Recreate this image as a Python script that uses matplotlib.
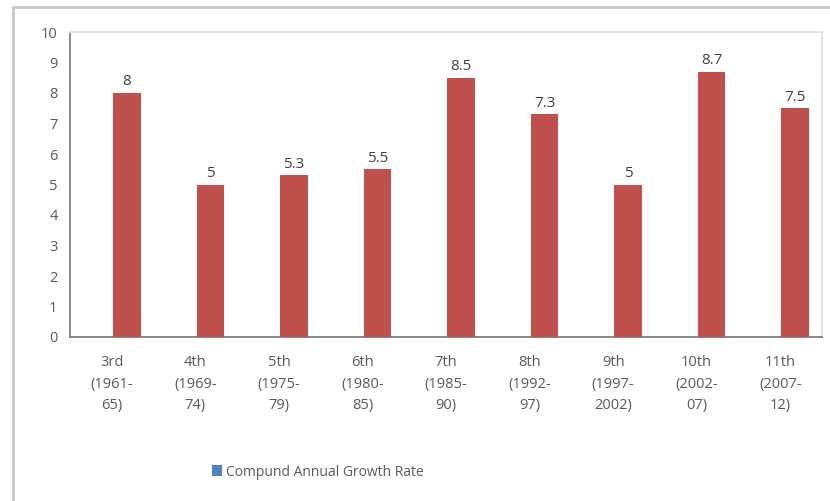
import matplotlib
matplotlib.use("Agg")
import matplotlib.pyplot as plt
from matplotlib.patches import Patch, Rectangle

plans = ["3rd\n(1961-\n65)", "4th\n(1969-\n74)", "5th\n(1975-\n79)", "6th\n(1980-\n85)",
         "7th\n(1985-\n90)", "8th\n(1992-\n97)", "9th\n(1997-\n2002)", "10th\n(2002-\n07)",
         "11th\n(2007-\n12)"]
growth = [8, 5, 5.3, 5.5, 8.5, 7.3, 5, 8.7, 7.5]
growth_labels = ["8", "5", "5.3", "5.5", "8.5", "7.3", "5", "8.7", "7.5"]
legend_label = "Compund Annual Growth Rate"

plt.rcParams['font.family'] = ['Open Sans', 'DejaVu Sans']
txt = '#595959'

fig = plt.figure(figsize=(8.3, 5.01), dpi=100)
ax = fig.add_axes([70/830, 1-337/501, 752/830, 305/501])

x = list(range(len(plans)))
ax.bar([i + 0.18 for i in x], growth, width=0.33, color='#C0504D', zorder=3)
for i, v, s in zip(x, growth, growth_labels):
    ax.text(i + 0.18, v + 0.12, s, ha='center', va='bottom', fontsize=11, color='#404040')

ax.set_xlim(-0.5, len(plans) - 0.5)
ax.set_ylim(0, 10)
ax.set_yticks(range(0, 11))
ax.set_xticks(x)
ax.set_xticklabels(plans, fontsize=10.5, color=txt, linespacing=1.6)
ax.tick_params(axis='x', length=0, pad=13)
ax.tick_params(axis='y', length=0, pad=9, labelsize=10.5, labelcolor=txt)

for side in ['left', 'bottom']:
    ax.spines[side].set_color('#7f7f7f')
    ax.spines[side].set_linewidth(1.3)
for side in ['top', 'right']:
    ax.spines[side].set_color('#e3e3e3')
    ax.spines[side].set_linewidth(1.5)

# outer chart border
fig.patches.append(Rectangle((13/830, -0.05), 1.0, 1 - 7/501 + 0.05, transform=fig.transFigure,
                             fill=False, edgecolor='#c8c8c8', linewidth=2))

fig.legend(handles=[Patch(facecolor='#4F81BD', label=legend_label)],
           loc='center', bbox_to_anchor=(318/830, 1-472/501), frameon=False,
           fontsize=10, labelcolor=txt, handlelength=0.7, handleheight=0.9, handletextpad=0.3)

fig.savefig('out.png', dpi=100)
